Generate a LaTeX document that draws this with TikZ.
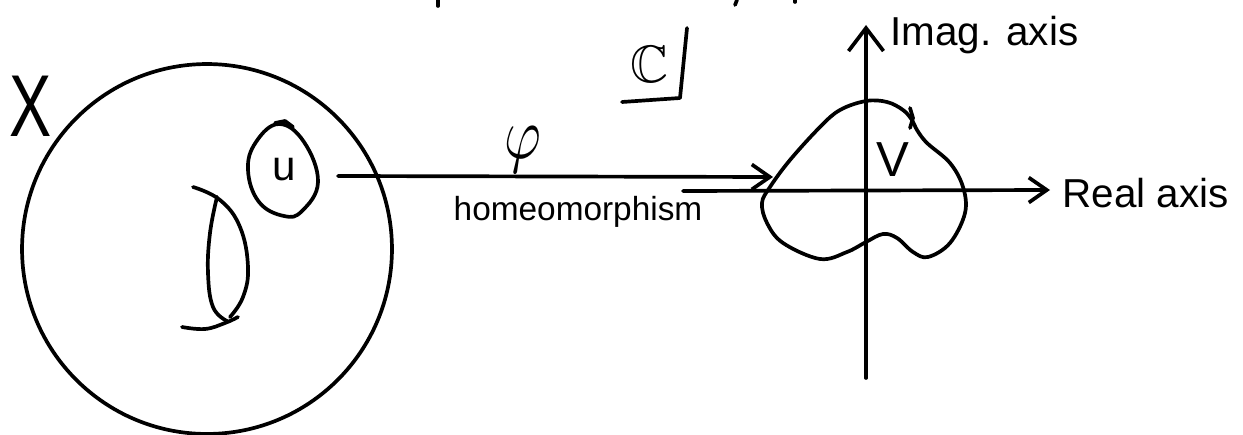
\documentclass[tikz,border=0pt]{standalone}
\usepackage{fontspec}
\setmainfont{Liberation Sans}
\usepackage{amssymb}
\usetikzlibrary{arrows.meta, positioning}

\begin{document}
\begin{tikzpicture}[
    x=0.02cm, y=-0.02cm,
    pen/.style={line width=2.1pt, line cap=round, line join=round},
    barb/.style={-{Straight Barb[length=0.36cm, width=0.5cm]}},
    imbarb/.style={-{Straight Barb[length=0.46cm, width=0.7cm]}},
    hand/.style={inner sep=0pt, font=\fontsize{19}{23}\selectfont},
    axislabel/.style={inner sep=0pt, font=\fontsize{23}{27}\selectfont},
    biglabel/.style={inner sep=0pt, font=\fontsize{50}{56}\selectfont},
]
    \useasboundingbox (0,0) rectangle (1243,435);

    % space X
    \node[draw, pen, circle, minimum size=7.4cm, inner sep=0pt] (space) at (207,249) {};
    \node[biglabel] (xlabel) at (31,106) {\scalebox{0.72}[1]{X}};

    % open set U
    \draw[pen] plot[smooth cycle, tension=0.7] coordinates {(279,124) (304,142) (318,182) (302,211) (284,216) (259,202) (248,170) (256,142)};
    \draw[pen] (275,123) -- (285,121) -- (293,127);
    \node[hand, font=\fontsize{24}{28}\selectfont] (ulabel) at (284,170) {u};

    % sphere-like cut
    \draw[pen] plot[smooth, tension=0.7] coordinates {(193,187) (220,200) (240,227) (248,267) (243,297) (230,317)};
    \draw[pen] plot[smooth, tension=0.7] coordinates {(217,197) (210,233) (208,273) (213,307) (227,321)};
    \draw[pen] plot[smooth, tension=0.7] coordinates {(182,327) (205,329) (225,323) (238,317)};

    % chart map
    \coordinate (phistart) at (338,176);
    \coordinate (phiend) at (773,177);
    \draw[pen, barb] (phistart) -- (phiend);
    \node[inner sep=0pt] (phi) at (523,150) {\scalebox{3.2}[4.2]{$\varphi$}};
    \node[hand] (homeo) at (578,212) {homeomorphism};

    % complex plane
    \node[inner sep=0pt, font=\fontsize{30}{34}\selectfont] (cplane) at (650,64) {$\mathbb{C}$};
    \draw[pen] (687,28) -- (680,98) -- (622,102);

    \coordinate (restart) at (683,191);
    \coordinate (reend) at (1050,190);
    \coordinate (imbottom) at (866,378);
    \coordinate (imtop) at (866,25);
    \draw[pen, barb] (restart) -- (reend);
    \draw[pen, imbarb] (imbottom) -- (imtop);
    \node[axislabel, anchor=base west] (realaxis) at (1062,208) {Real axis};
    \node[axislabel, anchor=base west] (imagaxis) at (890,46) {Imag. axis};

    % image set V
    \draw[pen] plot[smooth cycle, tension=0.6] coordinates {(866,101) (840,110) (820,127) (790,160) (770,187) (762,203) (767,223) (783,243) (820,259) (847,252) (866,242) (883,234) (897,238) (913,252) (928,257) (950,243) (965,213) (963,187) (950,163) (927,143) (917,130) (912,120) (903,110) (887,102)};
    \draw[pen] (910,108) -- (913,118) -- (910,128);
    \node[inner sep=0pt, font=\fontsize{28}{32}\selectfont] (vlabel) at (893,160) {V};

    % cut-off strokes at the top edge
    \draw[pen] (438,0) -- (438,6);
    \draw[pen] (737,0) -- (735,5);
    \draw[pen] (795,0) -- (795,2);
\end{tikzpicture}
\end{document}
